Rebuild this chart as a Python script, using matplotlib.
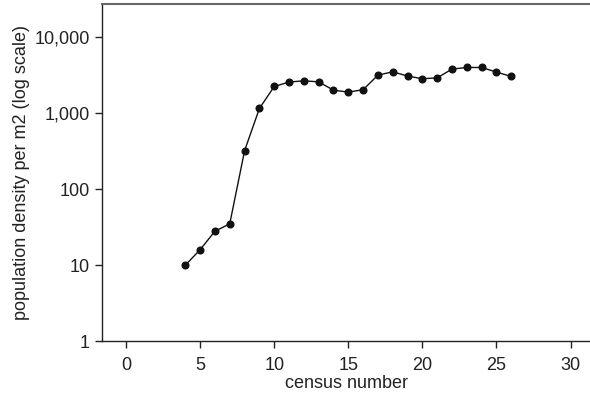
import matplotlib
matplotlib.use("Agg")
import matplotlib.pyplot as plt
from matplotlib.ticker import FuncFormatter, FixedLocator, NullLocator

plt.rcParams['font.family'] = ['Liberation Sans', 'DejaVu Sans']

# census data
census = [4, 5, 6, 7, 8, 9, 10, 11, 12, 13, 14, 15, 16, 17, 18, 19, 20, 21, 22, 23, 24, 25, 26]
density = [10, 16, 28, 35, 320, 1150, 2240, 2560, 2660, 2575, 2000, 1890, 2030,
           3160, 3490, 3070, 2830, 2910, 3790, 3980, 3980, 3460, 3030]

xticks = [0, 5, 10, 15, 20, 25, 30]
yticks = [1, 10, 100, 1000, 10000]

fig = plt.figure(figsize=(5.9, 3.94), dpi=100)
ax = fig.add_axes([0.1729, 0.1338, 0.8271, 0.857])

ax.plot(census, density, "-", color="#111111", lw=1.0,
        marker="o", markersize=4.8, markerfacecolor="#111111", markeredgecolor="#111111")

ax.set_yscale("log")
ax.set_xlim(-1.62, 31.31)
ax.set_ylim(1, 27500)
ax.xaxis.set_major_locator(FixedLocator(xticks))
ax.yaxis.set_major_locator(FixedLocator(yticks))
ax.yaxis.set_minor_locator(NullLocator())
ax.yaxis.set_major_formatter(FuncFormatter(lambda v, p: f"{int(round(v)):,}"))

ax.spines['right'].set_visible(False)
ax.spines['top'].set_color("#666666")
ax.spines['top'].set_linewidth(1.5)
for s in ['left', 'bottom']:
    ax.spines[s].set_color("#222222")
    ax.spines[s].set_linewidth(1.0)

ax.tick_params(direction="out", length=5, width=1, colors="#222222", labelsize=13, pad=4)
ax.tick_params(axis="x", pad=6)

ax.set_xlabel("census number", fontsize=13, color="#222222", labelpad=1)
ax.set_ylabel("population density per m2 (log scale)", fontsize=13, color="#222222", labelpad=3)

fig.savefig("out.png", dpi=100)
